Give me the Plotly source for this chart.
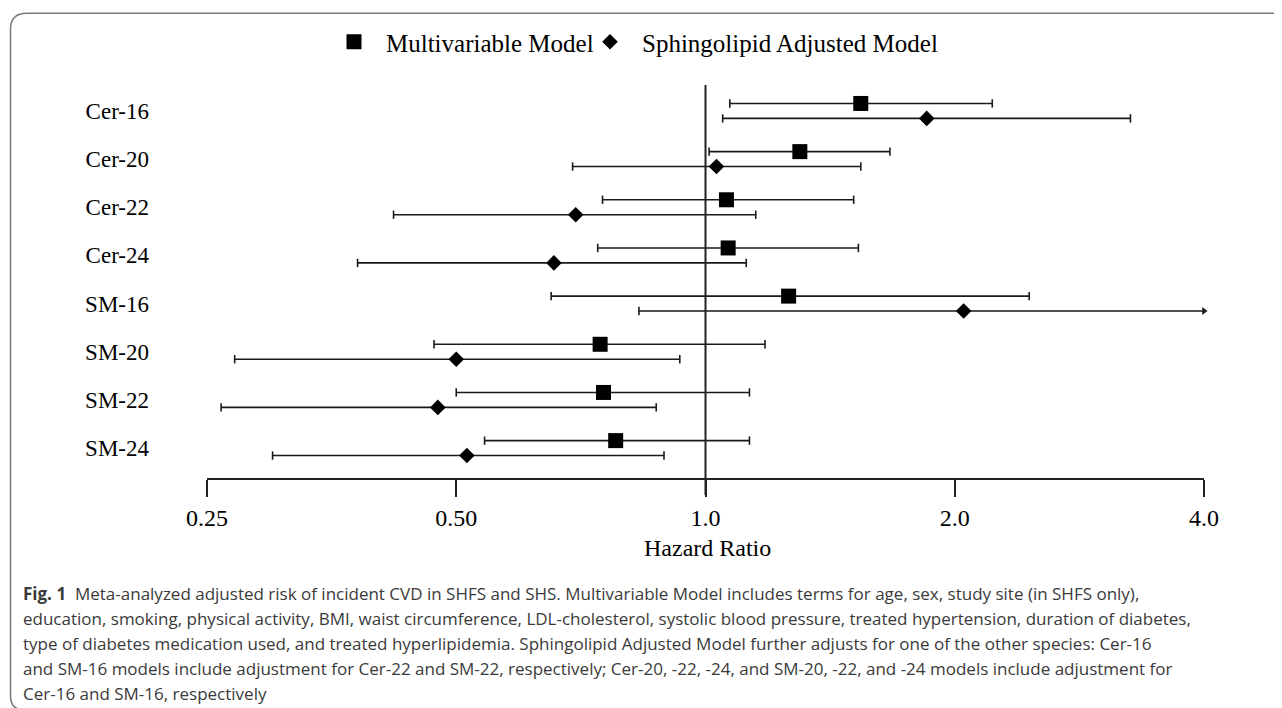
import math
import plotly.graph_objects as go

# ---------------- data ----------------
categories = ["Cer-16", "Cer-20", "Cer-22", "Cer-24", "SM-16", "SM-20", "SM-22", "SM-24"]

mv_hr = [1.54, 1.30, 1.06, 1.065, 1.26, 0.746, 0.753, 0.779]
mv_lo = [1.07, 1.01, 0.751, 0.741, 0.651, 0.47, 0.50, 0.541]
mv_hi = [2.22, 1.67, 1.51, 1.53, 2.46, 1.18, 1.13, 1.13]

sa_hr = [1.85, 1.031, 0.697, 0.656, 2.05, 0.50, 0.475, 0.515]
sa_lo = [1.049, 0.691, 0.42, 0.38, 0.831, 0.27, 0.26, 0.30]
sa_hi = [3.26, 1.54, 1.15, 1.12, 4.0, 0.931, 0.872, 0.891]
sa_hi_truncated = [False, False, False, False, True, False, False, False]

x_tickvals = [0.25, 0.5, 1.0, 2.0, 4.0]
x_ticktext = ["0.25", "0.50", "1.0", "2.0", "4.0"]
x_range = [0.25, 4.0]

series_names = ["Multivariable Model", "Sphingolipid Adjusted Model"]

caption_lines = [
    "<b>Fig. 1</b>&nbsp;&nbsp;Meta-analyzed adjusted risk of incident CVD in SHFS and SHS. Multivariable Model includes terms for age, sex, study site (in SHFS only),",
    "education, smoking, physical activity, BMI, waist circumference, LDL-cholesterol, systolic blood pressure, treated hypertension, duration of diabetes,",
    "type of diabetes medication used, and treated hyperlipidemia. Sphingolipid Adjusted Model further adjusts for one of the other species: Cer-16",
    "and SM-16 models include adjustment for Cer-22 and SM-22, respectively; Cer-20, -22, -24, and SM-20, -22, and -24 models include adjustment for",
    "Cer-16 and SM-16, respectively",
]

# ---------------- layout geometry ----------------
# the page body has an 8px margin, so the figure starts at (8, 8) in the window
PAGE_OFF = 8
W, H = 1274, 700
PLOT_L, PLOT_R, PLOT_T, PLOT_B = 207, 1204, 84, 478   # in window pixels
L = PLOT_L - PAGE_OFF
R = W - (PLOT_R - PAGE_OFF)
T = PLOT_T - PAGE_OFF
B = H - (PLOT_B - PAGE_OFF)
PW, PH = PLOT_R - PLOT_L, PLOT_B - PLOT_T


def xp(px):
    return (px - PLOT_L) / PW


def yp(py):
    return (PLOT_B - py) / PH


OFF = 0.155
n = len(categories)
y_mv = [i - OFF for i in range(n)]
y_sa = [i + OFF for i in range(n)]

LINE = "#1a1a1a"

fig = go.Figure()


def ci_lines(lo, hi, ys):
    xs, yy = [], []
    for a, b, y in zip(lo, hi, ys):
        xs += [a, b, None]
        yy += [y, y, None]
    return xs, yy


for lo, hi, ys in [(mv_lo, mv_hi, y_mv), (sa_lo, sa_hi, y_sa)]:
    xs, yy = ci_lines(lo, hi, ys)
    fig.add_trace(go.Scatter(x=xs, y=yy, mode="lines", line=dict(color=LINE, width=1.6),
                             showlegend=False, hoverinfo="skip", cliponaxis=False))

cap_x, cap_y = [], []
arrow_x, arrow_y = [], []
for lo, hi, ys, trunc in [(mv_lo, mv_hi, y_mv, [False] * n), (sa_lo, sa_hi, y_sa, sa_hi_truncated)]:
    for a, b, y, t in zip(lo, hi, ys, trunc):
        cap_x.append(a)
        cap_y.append(y)
        if t:
            arrow_x.append(b)
            arrow_y.append(y)
        else:
            cap_x.append(b)
            cap_y.append(y)

fig.add_trace(go.Scatter(x=cap_x, y=cap_y, mode="markers",
                         marker=dict(symbol="line-ns", size=6, line=dict(color=LINE, width=1.6)),
                         showlegend=False, hoverinfo="skip", cliponaxis=False))
fig.add_trace(go.Scatter(x=arrow_x, y=arrow_y, mode="markers",
                         marker=dict(symbol="triangle-right", size=7, color=LINE),
                         showlegend=False, hoverinfo="skip", cliponaxis=False))

fig.add_trace(go.Scatter(x=mv_hr, y=y_mv, mode="markers", name=series_names[0], legend="legend",
                         marker=dict(symbol="square", size=15, color="black"), cliponaxis=False))
fig.add_trace(go.Scatter(x=sa_hr, y=y_sa, mode="markers", name=series_names[1], legend="legend2",
                         marker=dict(symbol="diamond", size=12, color="black"), cliponaxis=False))

lx0, lx1 = math.log10(x_range[0]), math.log10(x_range[1])

# reference line at HR = 1
ref_paper = (math.log10(1.0) - lx0) / (lx1 - lx0)
fig.add_shape(type="line", xref="paper", yref="paper", x0=ref_paper, x1=ref_paper,
              y0=yp(495), y1=1, line=dict(color="#222", width=2))

# frame around figure (rounded corners at left)
frame = (f"M {xp(1300)},{yp(12)} L {xp(27)},{yp(12)} Q {xp(10.5)},{yp(12)} {xp(10.5)},{yp(28)} "
         f"L {xp(10.5)},{yp(696)} Q {xp(10.5)},{yp(710)} {xp(22)},{yp(710)}")
fig.add_shape(type="path", xref="paper", yref="paper", path=frame,
              line=dict(color="#7a7a7a", width=1.5))

fig.add_annotation(text="Hazard Ratio", xref="paper", yref="paper", x=xp(707), y=yp(548),
                   xanchor="center", yanchor="middle", showarrow=False,
                   font=dict(family="Liberation Serif", size=24, color="black"))

cap_ys = [594, 619, 644, 669, 694]
for txt, cy in zip(caption_lines, cap_ys):
    fig.add_annotation(text=txt, xref="paper", yref="paper", x=xp(21), y=yp(cy),
                       xanchor="left", yanchor="middle", showarrow=False, align="left",
                       font=dict(family="Open Sans", size=17, color="#3a3a3a"))

legend_common = dict(orientation="h", yanchor="middle", xanchor="left",
                     font=dict(family="Liberation Serif", size=25, color="black"),
                     bgcolor="rgba(0,0,0,0)", itemwidth=54)

fig.update_layout(
    width=W, height=H,
    margin=dict(l=L, r=R, t=T, b=B),
    paper_bgcolor="white", plot_bgcolor="white",
    font=dict(family="Liberation Serif", color="black"),
    showlegend=True,
    legend=dict(x=xp(322), y=yp(42), **legend_common),
    legend2=dict(x=xp(578), y=yp(42), **legend_common),
    xaxis=dict(type="log", range=[lx0, lx1], tickvals=x_tickvals, ticktext=x_ticktext,
               ticks="outside", ticklen=17, tickwidth=2, tickcolor="#222",
               showline=True, linewidth=2, linecolor="#222", showgrid=False, zeroline=False,
               tickfont=dict(size=24, family="Liberation Serif", color="black")),
    yaxis=dict(range=[n - 1 + 0.621, -0.538], tickvals=list(range(n)), ticktext=categories,
               showgrid=False, zeroline=False, showline=False, ticks="",
               ticklabelstandoff=57,
               tickfont=dict(size=23, family="Liberation Serif", color="black")),
)

fig.write_html("out.html")
